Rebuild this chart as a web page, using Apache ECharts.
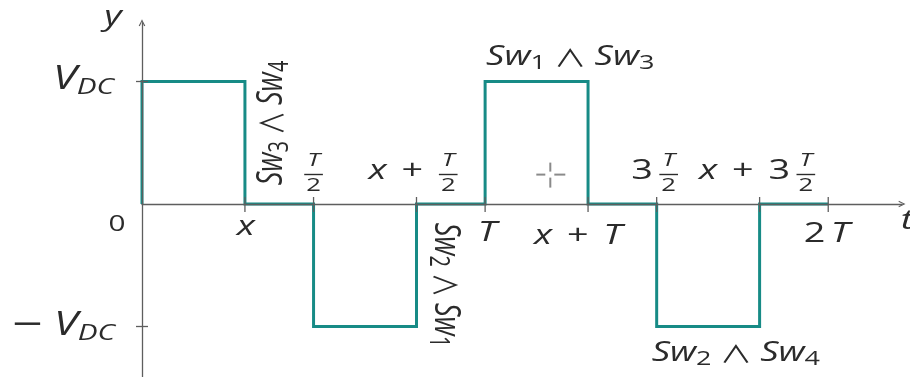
<!DOCTYPE html>
<html>
<head>
<meta charset="utf-8">
<script src="https://cdn.jsdelivr.net/npm/echarts@6/dist/echarts.min.js"></script>
<style>
  html, body { margin: 0; padding: 0; background: #ffffff; }
  #chart { width: 910px; height: 377px; }
</style>
</head>
<body>
<div id="chart"></div>
<script>
// Time is measured in periods T, voltage in units of V_DC.

// Corner points of the stepped inverter output waveform
const waveTime  = [0, 0, 0.3, 0.3, 0.5, 0.5, 0.8, 0.8, 1.0, 1.0, 1.3, 1.3, 1.5, 1.5, 1.8, 1.8, 2.0];
const waveLevel = [0, 1, 1,   0,   0,  -1,  -1,   0,   0,   1,   1,   0,   0,  -1,  -1,   0,   0];

// Marked instants on the t axis and their labels
const tTicks = [0.3, 0.5, 0.8, 1.0, 1.3, 1.5, 1.8, 2.0];
const tTickLabels = ['x', 'T/2', 'x + T/2', 'T', 'x + T', '3 T/2', 'x + 3 T/2', '2 T'];

// Voltage levels on the y axis
const yTicks = [1, 0, -1];
const yTickLabels = ['V_DC', '0', '−V_DC'];

// Switch pairs conducting during each pulse, anchored at a pulse corner
const pulseNames   = ['Sw3 ∧ Sw4', 'Sw2 ∧ Sw1', 'Sw1 ∧ Sw3', 'Sw2 ∧ Sw4'];
const pulseAnchorT = [0.3, 0.8, 1.0, 1.5];
const pulseAnchorV = [0, 0, 1, -1];

// Axis names
const axisNames = ['t', 'y'];

// ---- layout and style ----
const FONT = '"Open Sans", "DejaVu Sans", sans-serif';
const OPFONT = '"Noto Sans CJK SC", "DejaVu Sans", sans-serif';
const MINUSFONT = '"DejaVu Sans", sans-serif';
const INK = '#2b2b2b';
const AXIS = '#5e5e5e';
const TEAL = '#178b86';
const SX = 1.35;                 // glyphs are drawn wide
const MAIN = 28, FRAC = 19, OP_PAD = 7, GAP = 4;

const X_MIN = 0, X_MAX = 2.215, Y_MIN = -1.41, Y_MAX = 1.48;
const PX_PER_V = 122.5;

// label offsets (px) from each tick on the t axis
const tLabelLayout = [
  { dx: 1,    dy: 23 },
  { dx: 0,    dy: -33 },
  { dx: -3,   dy: -33 },
  { dx: 2,    dy: 29.5 },
  { dx: -10,  dy: 32.5 },
  { dx: -1.5, dy: -33 },
  { dx: -2,   dy: -33 },
  { dx: -1.5, dy: 30.5 }
];
// label offsets (px) from each tick on the y axis
const yLabelLayout = [
  { dx: -28, dy: -2, align: 'right' },
  { dx: -25, dy: 21, align: 'center' },
  { dx: -27, dy: -1, align: 'right' }
];
// switch-pair label placement relative to their anchors
const pulseLayout = [
  { dx: 27, dy: -81, align: 'center', rot: Math.PI / 2 },
  { dx: 29, dy: 81,  align: 'center', rot: -Math.PI / 2 },
  { dx: 1,  dy: -24, align: 'left',   rot: 0 },
  { dx: -5, dy: 27,  align: 'left',   rot: 0 }
];

const RICH = {
  v:  { fontFamily: FONT, fontStyle: 'italic', fontSize: 27, lineHeight: 32, color: INK },
  s:  { fontFamily: FONT, fontSize: 20, lineHeight: 22, verticalAlign: 'bottom', color: INK },
  op: { fontFamily: OPFONT, fontSize: 24, lineHeight: 32, padding: [0, 6, 0, 6], color: INK },
  V:  { fontFamily: FONT, fontStyle: 'italic', fontSize: 32, lineHeight: 38, color: INK },
  si: { fontFamily: FONT, fontStyle: 'italic', fontSize: 22, lineHeight: 25, verticalAlign: 'bottom', color: INK },
  mi: { fontFamily: MINUSFONT, fontSize: 30, lineHeight: 38, padding: [0, 7, 0, 0], color: INK },
  n:  { fontFamily: FONT, fontSize: 22, lineHeight: 30, color: INK }
};

// "Sw3 ∧ Sw4" -> rich text with italic letters and digit subscripts
function switchRich(label) {
  return label.split(' ').map(function (w) {
    if (w === '∧') return '{op|∧}';
    const m = w.match(/^([A-Za-z]+)(\d*)$/);
    return '{v|' + m[1] + '}' + (m[2] ? '{s|' + m[2] + '}' : '');
  }).join('');
}
// "−V_DC" -> rich text
function levelRich(label) {
  let out = '';
  let s = label;
  if (s[0] === '−') { out += '{mi|−}'; s = s.slice(1); }
  if (s.indexOf('_') > 0) {
    const p = s.split('_');
    out += '{V|' + p[0] + '}{si|' + p[1] + '}';
  } else {
    out += '{n|' + s + '}';
  }
  return out;
}

const measureCtx = document.createElement('canvas').getContext('2d');
function textWidth(s, size, italic) {
  measureCtx.font = (italic ? 'italic ' : '') + size + 'px ' + FONT;
  return measureCtx.measureText(s).width * SX;
}
function parseMath(label) {
  return label.split(' ').map(function (s) {
    let tok;
    if (s.indexOf('/') > 0) { const p = s.split('/'); tok = { kind: 'frac', n: p[0], d: p[1] }; }
    else if (s === '+') tok = { kind: 'op', s: s };
    else if (/^\d+$/.test(s)) tok = { kind: 'num', s: s };
    else tok = { kind: 'var', s: s };
    if (tok.kind === 'frac') tok.w = Math.max(textWidth(tok.n, FRAC, true), textWidth(tok.d, FRAC, false)) + 6;
    else if (tok.kind === 'op') tok.w = textWidth(tok.s, MAIN, false) + 2 * OP_PAD * SX;
    else tok.w = textWidth(tok.s, MAIN, tok.kind === 'var');
    return tok;
  });
}
function textEl(s, x, y, size, italic) {
  return {
    type: 'text', x: x, y: y, scaleX: SX,
    style: { text: s, fill: INK, font: (italic ? 'italic ' : '') + size + 'px ' + FONT, align: 'center', verticalAlign: 'middle' }
  };
}
function mathChildren(tokens, cx, midY) {
  const total = tokens.reduce(function (a, t) { return a + t.w; }, 0) + GAP * SX * (tokens.length - 1);
  let x = cx - total / 2;
  const out = [];
  tokens.forEach(function (tok) {
    const c = x + tok.w / 2;
    if (tok.kind === 'frac') {
      out.push(textEl(tok.n, c, midY - 10, FRAC, true));
      out.push({ type: 'line', shape: { x1: x + 1, y1: midY + 3.5, x2: x + tok.w - 1, y2: midY + 3.5 },
                 style: { stroke: INK, lineWidth: 1.4 } });
      out.push(textEl(tok.d, c, midY + 15, FRAC, false));
    } else {
      out.push(textEl(tok.s, c, midY, MAIN, tok.kind === 'var'));
    }
    x += tok.w + GAP * SX;
  });
  return out;
}

const tTokens = tTickLabels.map(parseMath);
const tickStyle = { stroke: AXIS, lineWidth: 1.3 };

const chart = echarts.init(document.getElementById('chart'));

// open arrowhead for both axes
const arrowPath = 'path://M0,10 Q3,4.5 5,0 Q7,4.5 10,10 L8.3,10.6 Q6.2,6.5 5,3.6 Q3.8,6.5 1.7,10.6 Z';

const axisCommon = {
  type: 'value',
  z: 5,
  axisLine: {
    onZero: true,
    symbol: ['none', arrowPath],
    symbolSize: [11, 7],
    lineStyle: { color: AXIS, width: 1.3 }
  },
  axisTick: { show: false },
  axisLabel: { show: false },
  splitLine: { show: false }
};

chart.setOption({
  animation: false,
  backgroundColor: '#ffffff',
  grid: { left: 142, top: 22.7, width: 760, height: (Y_MAX - Y_MIN) * PX_PER_V, outerBoundsMode: 'none' },
  xAxis: Object.assign({}, axisCommon, { min: X_MIN, max: X_MAX }),
  yAxis: Object.assign({}, axisCommon, { min: Y_MIN, max: Y_MAX }),
  series: [
    {
      type: 'line',
      z: 2,
      data: waveTime.map(function (t, i) { return [t, waveLevel[i]]; }),
      showSymbol: false,
      lineStyle: { color: TEAL, width: 3, join: 'miter' },
      silent: true
    },
    {
      // ticks and labels on the t axis
      type: 'custom',
      z: 6,
      data: tTicks.map(function (t) { return [t, 0]; }),
      renderItem: function (params, api) {
        const i = params.dataIndex;
        const p = api.coord([api.value(0), api.value(1)]);
        const lay = tLabelLayout[i];
        const kids = [{ type: 'line', shape: { x1: p[0], y1: p[1] - 7, x2: p[0], y2: p[1] + 8 }, style: tickStyle }];
        return { type: 'group', children: kids.concat(mathChildren(tTokens[i], p[0] + lay.dx, p[1] + lay.dy)) };
      }
    },
    {
      // ticks and labels on the y axis
      type: 'custom',
      z: 6,
      data: yTicks.map(function (v) { return [0, v]; }),
      renderItem: function (params, api) {
        const i = params.dataIndex;
        const p = api.coord([api.value(0), api.value(1)]);
        const lay = yLabelLayout[i];
        const kids = [];
        if (api.value(1) !== 0) {
          kids.push({ type: 'line', shape: { x1: p[0] - 6, y1: p[1], x2: p[0] + 6, y2: p[1] }, style: tickStyle });
        }
        kids.push({
          type: 'text', x: p[0] + lay.dx, y: p[1] + lay.dy, scaleX: SX,
          style: { text: levelRich(yTickLabels[i]), rich: RICH, align: lay.align, verticalAlign: 'middle', fill: INK }
        });
        return { type: 'group', children: kids };
      }
    },
    {
      // switch pairs conducting during each pulse
      type: 'custom',
      z: 6,
      data: pulseAnchorT.map(function (t, i) { return [t, pulseAnchorV[i]]; }),
      renderItem: function (params, api) {
        const i = params.dataIndex;
        const p = api.coord([api.value(0), api.value(1)]);
        const lay = pulseLayout[i];
        const upright = lay.rot === 0;
        return {
          type: 'text', x: p[0] + lay.dx, y: p[1] + lay.dy, rotation: lay.rot,
          scaleX: upright ? SX : 1, scaleY: upright ? 1 : SX,
          style: { text: switchRich(pulseNames[i]), rich: RICH, align: lay.align, verticalAlign: 'middle', fill: INK }
        };
      }
    },
    {
      // axis names at the arrow tips
      type: 'custom',
      z: 6,
      data: [[X_MAX, 0], [0, Y_MAX]],
      renderItem: function (params, api) {
        const i = params.dataIndex;
        const p = api.coord([api.value(0), api.value(1)]);
        const off = i === 0 ? [5, 17] : [-29, -6];
        return {
          type: 'text', x: p[0] + off[0], y: p[1] + off[1], scaleX: SX,
          style: { text: axisNames[i], fill: INK, font: 'italic 28px ' + FONT, align: 'center', verticalAlign: 'middle' }
        };
      }
    },
    {
      // small dashed crosshair
      type: 'custom',
      z: 6,
      data: [[1.19, 0.24]],
      renderItem: function (params, api) {
        const p = api.coord([api.value(0), api.value(1)]);
        const st = { stroke: '#8a8a8a', lineWidth: 2 };
        return {
          type: 'group',
          children: [
            { type: 'line', shape: { x1: p[0] - 14, y1: p[1], x2: p[0] - 5, y2: p[1] }, style: st },
            { type: 'line', shape: { x1: p[0] + 4, y1: p[1], x2: p[0] + 15, y2: p[1] }, style: st },
            { type: 'line', shape: { x1: p[0], y1: p[1] - 12, x2: p[0], y2: p[1] - 3 }, style: st },
            { type: 'line', shape: { x1: p[0], y1: p[1] + 3, x2: p[0], y2: p[1] + 13 }, style: st }
          ]
        };
      }
    }
  ]
});
</script>
</body>
</html>
